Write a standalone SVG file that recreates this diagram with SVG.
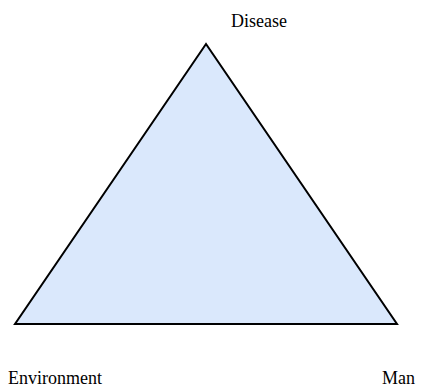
<svg xmlns="http://www.w3.org/2000/svg" width="423" height="390" viewBox="0 0 423 390">
<style>
.lbl{font-family:"Liberation Serif","Times New Roman",serif;font-size:18px;fill:#000}
.tri{fill:#dae8fc;stroke:#000;stroke-width:2;stroke-linejoin:miter}
</style>
<rect width="423" height="390" fill="#fff"/>
<g id="triangle"><polygon class="tri" points="206,44 15,324 397,324"/></g>
<g id="connectors"></g>
<g id="disease"><text class="lbl" x="231" y="27">Disease</text></g>
<g id="environment"><text class="lbl" x="8" y="384">Environment</text></g>
<g id="man"><text class="lbl" x="382" y="384">Man</text></g>
</svg>
